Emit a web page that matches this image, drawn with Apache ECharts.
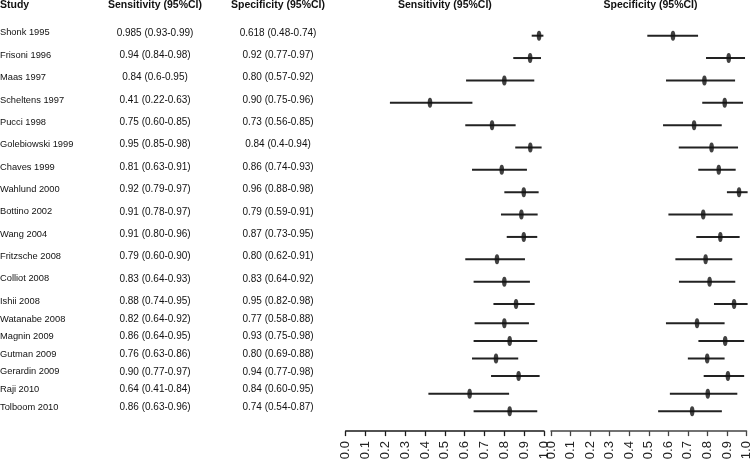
<!DOCTYPE html>
<html>
<head>
<meta charset="utf-8">
<script src="https://cdn.jsdelivr.net/npm/echarts@6/dist/echarts.min.js"></script>
<style>
html,body{margin:0;padding:0;background:#fff;}
#chart{width:753px;height:467px;}
</style>
</head>
<body>
<div id="chart"></div>
<script>
// ---- data ----
const studies = ['Shonk 1995','Frisoni 1996','Maas 1997','Scheltens 1997','Pucci 1998','Golebiowski 1999','Chaves 1999','Wahlund 2000','Bottino 2002','Wang 2004','Fritzsche 2008','Colliot 2008','Ishii 2008','Watanabe 2008','Magnin 2009','Gutman 2009','Gerardin 2009','Raji 2010','Tolboom 2010'];

const sensText = ['0.985 (0.93-0.99)','0.94 (0.84-0.98)','0.84 (0.6-0.95)','0.41 (0.22-0.63)','0.75 (0.60-0.85)','0.95 (0.85-0.98)','0.81 (0.63-0.91)','0.92 (0.79-0.97)','0.91 (0.78-0.97)','0.91 (0.80-0.96)','0.79 (0.60-0.90)','0.83 (0.64-0.93)','0.88 (0.74-0.95)','0.82 (0.64-0.92)','0.86 (0.64-0.95)','0.76 (0.63-0.86)','0.90 (0.77-0.97)','0.64 (0.41-0.84)','0.86 (0.63-0.96)'];
const specText = ['0.618 (0.48-0.74)','0.92 (0.77-0.97)','0.80 (0.57-0.92)','0.90 (0.75-0.96)','0.73 (0.56-0.85)','0.84 (0.4-0.94)','0.86 (0.74-0.93)','0.96 (0.88-0.98)','0.79 (0.59-0.91)','0.87 (0.73-0.95)','0.80 (0.62-0.91)','0.83 (0.64-0.92)','0.95 (0.82-0.98)','0.77 (0.58-0.88)','0.93 (0.75-0.98)','0.80 (0.69-0.88)','0.94 (0.77-0.98)','0.84 (0.60-0.95)','0.74 (0.54-0.87)'];

// plotted estimates and CI bounds
const sensEst = [0.975,0.93,0.80,0.425,0.738,0.931,0.787,0.898,0.886,0.898,0.763,0.80,0.859,0.80,0.827,0.758,0.872,0.625,0.827];
const sensLo  = [0.938,0.845,0.607,0.223,0.603,0.855,0.637,0.80,0.783,0.812,0.603,0.645,0.745,0.650,0.645,0.637,0.733,0.417,0.645];
const sensHi  = [0.997,0.985,0.951,0.639,0.857,0.988,0.914,0.973,0.968,0.966,0.904,0.929,0.953,0.924,0.966,0.870,0.978,0.824,0.966];
const specEst = [0.613,0.893,0.771,0.873,0.719,0.807,0.843,0.945,0.765,0.851,0.777,0.797,0.920,0.747,0.891,0.799,0.905,0.802,0.722];
const specLo  = [0.484,0.779,0.578,0.760,0.563,0.642,0.740,0.884,0.590,0.730,0.625,0.643,0.819,0.588,0.754,0.700,0.781,0.608,0.548];
const specHi  = [0.739,0.975,0.925,0.965,0.858,0.940,0.928,0.988,0.913,0.948,0.911,0.926,0.988,0.888,0.988,0.888,0.988,0.953,0.874];

const headers = ['Study','Sensitivity (95%CI)','Specificity (95%CI)'];
const tableCols = ['sens','spec'];
const tickMin = 0, tickMax = 1, tickStep = 0.1;

// ---- layout ----
const FONT = 'Liberation Sans, Arial, sans-serif';
const SPLIT = 13; // first row group has wider spacing than second
const groups = [
  {idx: [...Array(SPLIT).keys()], top: 24.5, height: 290.7, textDy: -2.8},
  {idx: [...Array(studies.length - SPLIT).keys()].map(i => i + SPLIT), top: 314.5, height: 105.6, textDy: -4.3}
];
const panels = [
  {left: 345.7, width: 198.3, est: sensEst, lo: sensLo, hi: sensHi, axisColor: '#1a1a1a'},
  {left: 551, width: 199, est: specEst, lo: specLo, hi: specHi, axisColor: '#444'}
];
const TABLE_LEFT = 93.5;

const grid = [], xAxis = [], yAxis = [], series = [];

groups.forEach((g, gi) => {
  const names = g.idx.map(i => studies[i]);
  // table grid
  const tIdx = grid.length;
  grid.push({left: TABLE_LEFT, width: 246, top: g.top, height: g.height});
  xAxis.push({type: 'category', gridIndex: tIdx, data: tableCols, show: false});
  yAxis.push({type: 'category', gridIndex: tIdx, data: names, inverse: true, show: false});
  const tData = [], tTexts = [], tKind = [];
  g.idx.forEach(i => {
    tData.push(['sens', studies[i]]); tTexts.push(studies[i]); tKind.push('name');
    tData.push(['sens', studies[i]]); tTexts.push(sensText[i]); tKind.push('num');
    tData.push(['spec', studies[i]]); tTexts.push(specText[i]); tKind.push('num');
  });
  series.push({
    type: 'custom', xAxisIndex: tIdx, yAxisIndex: tIdx, data: tData, silent: true,
    renderItem: (params, api) => {
      const p = api.coord([api.value(0), api.value(1)]);
      const isName = tKind[params.dataIndex] === 'name';
      return {type: 'text',
        x: isName ? params.coordSys.x - TABLE_LEFT : p[0],
        y: p[1] + g.textDy,
        style: {text: tTexts[params.dataIndex], align: isName ? 'left' : 'center', verticalAlign: 'middle',
          fontSize: isName ? 9.3 : 10, fontFamily: FONT, fill: '#111'}};
    }
  });

  // plot grids
  panels.forEach((pn) => {
    const k = grid.length;
    const isBottom = gi === groups.length - 1;
    grid.push({left: pn.left, width: pn.width, top: g.top, height: g.height});
    xAxis.push({
      type: 'value', gridIndex: k, min: tickMin, max: tickMax, interval: tickStep,
      show: isBottom, position: 'bottom', offset: 11,
      splitLine: {show: false},
      axisLine: {show: true, lineStyle: {color: pn.axisColor, width: 1.5}},
      axisTick: {show: true, length: 5, lineStyle: {color: pn.axisColor, width: 1.3}},
      axisLabel: {show: true, rotate: 90, margin: 10, interval: 0, fontSize: 13, fontFamily: FONT, color: '#222',
        showMinLabel: true, showMaxLabel: true,
        formatter: v => v.toFixed(1)}
    });
    yAxis.push({type: 'category', gridIndex: k, data: names, inverse: true, show: false});
    series.push({
      type: 'custom', xAxisIndex: k, yAxisIndex: k, silent: true,
      data: g.idx.map(i => [pn.lo[i], pn.hi[i], studies[i]]),
      renderItem: (params, api) => {
        const a = api.coord([api.value(0), api.value(2)]);
        const b = api.coord([api.value(1), api.value(2)]);
        return {type: 'line', shape: {x1: a[0], y1: a[1], x2: b[0], y2: b[1]},
          style: {stroke: '#222', lineWidth: 2}};
      }
    });
    series.push({
      type: 'scatter', xAxisIndex: k, yAxisIndex: k, silent: true,
      symbol: 'circle', symbolSize: [4.6, 10],
      itemStyle: {color: '#111'},
      data: g.idx.map(i => [pn.est[i], studies[i]])
    });
  });
});

const hStyle = {fontSize: 10.5, fontWeight: 'bold', fontFamily: FONT, color: '#111'};
const title = [
  {text: headers[0], left: 0, top: 0, padding: 0, textStyle: hStyle},
  {text: headers[1], left: 155, top: 0, padding: 0, textAlign: 'center', textStyle: hStyle},
  {text: headers[2], left: 278, top: 0, padding: 0, textAlign: 'center', textStyle: hStyle},
  {text: headers[1], left: panels[0].left + panels[0].width / 2, top: 0, padding: 0, textAlign: 'center', textStyle: hStyle},
  {text: headers[2], left: panels[1].left + panels[1].width / 2, top: 0, padding: 0, textAlign: 'center', textStyle: hStyle}
];

const chart = echarts.init(document.getElementById('chart'), null, {renderer: 'canvas'});
chart.setOption({
  backgroundColor: '#fff',
  animation: false,
  title: title,
  grid: grid,
  xAxis: xAxis,
  yAxis: yAxis,
  series: series
});
</script>
</body>
</html>
